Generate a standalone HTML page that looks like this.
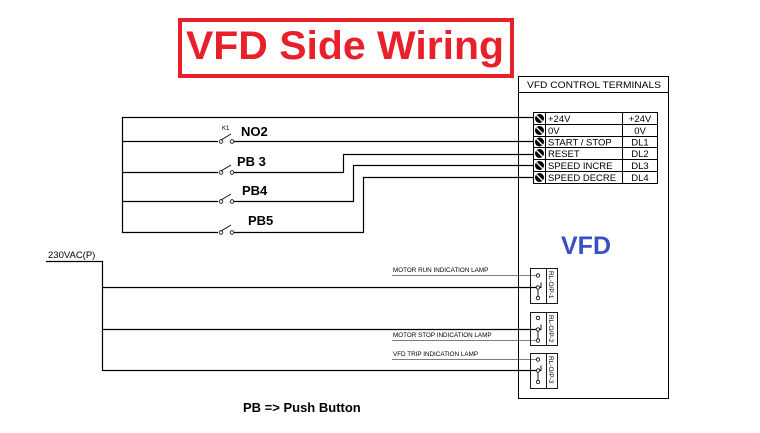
<!DOCTYPE html>
<html><head><meta charset="utf-8"><style>html,body{margin:0;padding:0;background:#fff}svg{display:block}</style></head><body>
<svg width="760" height="433" viewBox="0 0 760 433" xmlns="http://www.w3.org/2000/svg" font-family="Liberation Sans, Arial, sans-serif">
<rect x="180" y="20" width="332" height="56" fill="none" stroke="#e8202a" stroke-width="4"/>
<text x="186" y="59" font-size="40" font-weight="bold" fill="#e8202a" textLength="318" lengthAdjust="spacingAndGlyphs">VFD Side Wiring</text>

<!-- VFD box -->
<rect x="518.5" y="76.5" width="150" height="322" fill="none" stroke="#000"/>
<line x1="518" y1="92.5" x2="669" y2="92.5" stroke="#000"/>
<text x="527" y="88" font-size="9" textLength="134" lengthAdjust="spacingAndGlyphs">VFD CONTROL TERMINALS</text>

<!-- terminal table -->
<g stroke="#000" fill="none">
<rect x="533.5" y="112.5" width="124" height="71"/>
<line x1="545.5" y1="112" x2="545.5" y2="184"/>
<line x1="622.5" y1="112" x2="622.5" y2="184"/>
<line x1="533" y1="124.5" x2="658" y2="124.5"/>
<line x1="533" y1="136.5" x2="658" y2="136.5"/>
<line x1="533" y1="147.5" x2="658" y2="147.5"/>
<line x1="533" y1="159.5" x2="658" y2="159.5"/>
<line x1="533" y1="171.5" x2="658" y2="171.5"/>
</g>
<g fill="#000">
<circle cx="539.5" cy="118.5" r="4.5"/><circle cx="539.5" cy="130.5" r="4.5"/><circle cx="539.5" cy="142" r="4.5"/>
<circle cx="539.5" cy="153.5" r="4.5"/><circle cx="539.5" cy="165.5" r="4.5"/><circle cx="539.5" cy="177.5" r="4.5"/>
</g>
<g stroke="#fff" stroke-width="1.3">
<line x1="536.5" y1="115.5" x2="542.5" y2="121.5"/><line x1="536.5" y1="127.5" x2="542.5" y2="133.5"/><line x1="536.5" y1="139" x2="542.5" y2="145"/>
<line x1="536.5" y1="150.5" x2="542.5" y2="156.5"/><line x1="536.5" y1="162.5" x2="542.5" y2="168.5"/><line x1="536.5" y1="174.5" x2="542.5" y2="180.5"/>
</g>
<g font-size="9.5">
<text x="548" y="122">+24V</text><text x="548" y="134">0V</text><text x="548" y="145.5">START / STOP</text>
<text x="548" y="157">RESET</text><text x="548" y="169">SPEED INCRE</text><text x="548" y="181">SPEED DECRE</text>
<text x="640" y="122" text-anchor="middle">+24V</text><text x="640" y="134" text-anchor="middle">0V</text><text x="640" y="145.5" text-anchor="middle">DL1</text>
<text x="640" y="157" text-anchor="middle">DL2</text><text x="640" y="169" text-anchor="middle">DL3</text><text x="640" y="181" text-anchor="middle">DL4</text>
</g>

<!-- control wiring -->
<g stroke="#000" fill="none" stroke-width="1.2">
<polyline points="533,117.5 122.5,117.5 122.5,232.5 218,232.5"/>
<line x1="122" y1="141.5" x2="218" y2="141.5"/><line x1="234" y1="141.5" x2="533" y2="141.5"/>
<line x1="122" y1="172.5" x2="218" y2="172.5"/><polyline points="234,172.5 343.5,172.5 343.5,154.5 533,154.5"/>
<line x1="122" y1="201.5" x2="218" y2="201.5"/><polyline points="234,201.5 353.5,201.5 353.5,165.5 533,165.5"/>
<polyline points="234,232.5 363.5,232.5 363.5,177.5 533,177.5"/>
</g>
<g stroke="#000" fill="#fff" stroke-width="0.8">
<circle cx="221" cy="141.5" r="1.8"/><circle cx="232" cy="141.5" r="1.8"/><line x1="221" y1="140" x2="231" y2="134"/>
<circle cx="221" cy="172.5" r="1.8"/><circle cx="232" cy="172.5" r="1.8"/><line x1="221" y1="171" x2="231" y2="165"/>
<circle cx="221" cy="201.5" r="1.8"/><circle cx="232" cy="201.5" r="1.8"/><line x1="221" y1="200" x2="231" y2="194"/>
<circle cx="221" cy="232.5" r="1.8"/><circle cx="232" cy="232.5" r="1.8"/><line x1="221" y1="231" x2="231" y2="225"/>
</g>
<text x="222" y="130" font-size="6">K1</text>
<g font-size="13" font-weight="bold">
<text x="241" y="136">NO2</text><text x="237" y="166">PB 3</text><text x="242" y="195">PB4</text><text x="248" y="225">PB5</text>
</g>

<text x="561" y="254" font-size="25" font-weight="bold" fill="#3a4fc6">VFD</text>

<!-- AC wiring -->
<text x="48" y="258" font-size="9.5">230VAC(P)</text>
<g stroke="#000" fill="none" stroke-width="1.2">
<line x1="46" y1="261.5" x2="103" y2="261.5"/>
<line x1="102.5" y1="261" x2="102.5" y2="370.5"/>
<line x1="102" y1="287.5" x2="536" y2="287.5"/>
<line x1="102" y1="329.5" x2="536" y2="329.5"/>
<line x1="102" y1="370.5" x2="536" y2="370.5"/>
</g>
<g stroke="#555" stroke-width="0.8">
<line x1="392" y1="275.5" x2="536" y2="275.5"/>
<line x1="392" y1="340.5" x2="536" y2="340.5"/>
<line x1="392" y1="359.5" x2="536" y2="359.5"/>
</g>
<g font-size="6.3">
<text x="393" y="272">MOTOR RUN INDICATION LAMP</text>
<text x="393" y="337">MOTOR STOP INDICATION LAMP</text>
<text x="393" y="356">VFD TRIP INDICATION LAMP</text>
</g>
<!-- relay boxes -->
<g stroke="#000" fill="none" stroke-width="0.9">
<rect x="530.5" y="268.5" width="27" height="35"/><line x1="546.5" y1="268" x2="546.5" y2="304"/>
<rect x="530.5" y="312.5" width="27" height="33"/><line x1="546.5" y1="312" x2="546.5" y2="346"/>
<rect x="530.5" y="353.5" width="27" height="35"/><line x1="546.5" y1="353" x2="546.5" y2="389"/>
<path d="M538 287.5 V297 M538 287.5 h3 v-5 M538 329.5 V340 M538 329.5 h3 v-5 M538 370.5 V381 M538 370.5 h3 v-5"/>
</g>
<g stroke="#000" fill="#fff" stroke-width="0.8">
<circle cx="538" cy="275.5" r="1.7"/><circle cx="538" cy="287.5" r="1.7"/><circle cx="538" cy="298" r="1.7"/>
<circle cx="538" cy="318" r="1.7"/><circle cx="538" cy="329.5" r="1.7"/><circle cx="538" cy="340.5" r="1.7"/>
<circle cx="538" cy="359.5" r="1.7"/><circle cx="538" cy="370.5" r="1.7"/><circle cx="538" cy="382" r="1.7"/>
</g>
<g font-size="6.5">
<text transform="translate(549,271) rotate(90)">RL-O/P-1</text>
<text transform="translate(549,315) rotate(90)">RL-O/P-2</text>
<text transform="translate(549,356) rotate(90)">RL-O/P-3</text>
</g>

<text x="243" y="412" font-size="13" font-weight="bold">PB =&gt; Push Button</text>
</svg>
</body></html>
